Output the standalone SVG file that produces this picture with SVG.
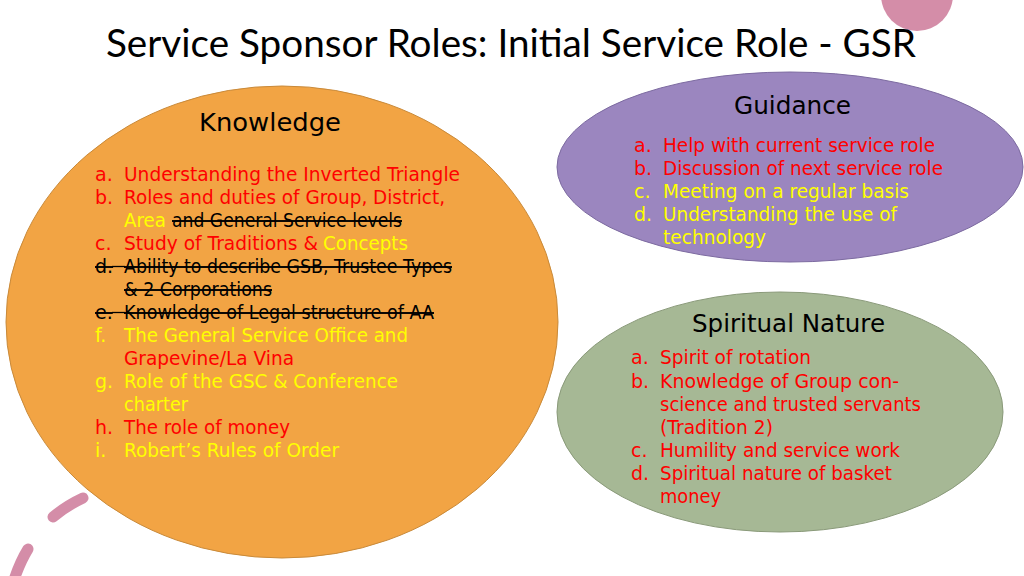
<svg xmlns="http://www.w3.org/2000/svg" width="1024" height="576" viewBox="0 0 1024 576">
<style>
.t{font-family:"DejaVu Sans","Noto Sans",sans-serif;font-size:19px}
.h{font-family:"DejaVu Sans","Noto Sans",sans-serif;font-size:24px;fill:#000}
.title{font-family:"Lato","Open Sans",sans-serif;font-size:38px;fill:#000}
.r{fill:#FF0000}
.y{fill:#FFFF00}
.k{fill:#000}
.s{text-decoration:line-through}
.bridge{stroke:#000;stroke-width:1.3}
.deco{stroke:#D48DA8;stroke-width:11;stroke-linecap:round;fill:none}
</style>
<rect width="1024" height="576" fill="#fff"/>
<g id="decor">
<circle cx="917" cy="-5" r="36" fill="#D48DA8"/>
<path class="deco" d="M53,517 Q66,506 83,498"/>
<path class="deco" d="M28,549 Q20,562 14,580"/>
</g>
<g id="title">
<text class="title" x="106" y="57" textLength="810" lengthAdjust="spacingAndGlyphs">Service Sponsor Roles: Initial Service Role - GSR</text>
</g>
<g id="connectors"/>
<g id="knowledge">
<ellipse cx="282" cy="322" rx="276" ry="236" fill="#F2A444" stroke="#C98A3A" stroke-width="1"/>
<text class="h" x="199" y="131" textLength="142" lengthAdjust="spacingAndGlyphs">Knowledge</text>
<text class="t r" x="95" y="181">a.</text>
<text class="t r" x="124" y="181" textLength="336" lengthAdjust="spacingAndGlyphs">Understanding the Inverted Triangle</text>
<text class="t r" x="95" y="204">b.</text>
<text class="t r" x="124" y="204" textLength="321" lengthAdjust="spacingAndGlyphs">Roles and duties of Group, District,</text>
<text class="t y" x="124" y="227" textLength="42" lengthAdjust="spacingAndGlyphs">Area</text>
<text class="t k s" x="172" y="227" textLength="230" lengthAdjust="spacingAndGlyphs">and General Service levels</text>
<text class="t r" x="95" y="250">c.</text>
<text class="t r" x="124" y="250" textLength="194" lengthAdjust="spacingAndGlyphs">Study of Traditions &amp;</text>
<text class="t y" x="323" y="250" textLength="85" lengthAdjust="spacingAndGlyphs">Concepts</text>
<text class="t k s" x="95" y="273">d.</text>
<line class="bridge" x1="112" y1="266.5" x2="125" y2="266.5"/>
<text class="t k s" x="124" y="273" textLength="328" lengthAdjust="spacingAndGlyphs">Ability to describe GSB, Trustee Types</text>
<text class="t k s" x="124" y="296" textLength="148" lengthAdjust="spacingAndGlyphs">&amp; 2 Corporations</text>
<text class="t k s" x="95" y="319">e.</text>
<line class="bridge" x1="112" y1="312.5" x2="125" y2="312.5"/>
<text class="t k s" x="124" y="319" textLength="310" lengthAdjust="spacingAndGlyphs">Knowledge of Legal structure of AA</text>
<text class="t y" x="95" y="342">f.</text>
<text class="t y" x="124" y="342" textLength="284" lengthAdjust="spacingAndGlyphs">The General Service Office and</text>
<text class="t r" x="124" y="365" textLength="170" lengthAdjust="spacingAndGlyphs">Grapevine/La Vina</text>
<text class="t y" x="95" y="388">g.</text>
<text class="t y" x="124" y="388" textLength="274" lengthAdjust="spacingAndGlyphs">Role of the GSC &amp; Conference</text>
<text class="t y" x="124" y="411" textLength="64" lengthAdjust="spacingAndGlyphs">charter</text>
<text class="t r" x="95" y="434">h.</text>
<text class="t r" x="124" y="434" textLength="166" lengthAdjust="spacingAndGlyphs">The role of money</text>
<text class="t y" x="95" y="457">i.</text>
<text class="t y" x="124" y="457" textLength="215" lengthAdjust="spacingAndGlyphs">Robert’s Rules of Order</text>
</g>
<g id="guidance">
<ellipse cx="790" cy="167" rx="233" ry="95" fill="#9B86BF" stroke="#7C6AA0" stroke-width="1"/>
<text class="h" x="734" y="114" textLength="117" lengthAdjust="spacingAndGlyphs">Guidance</text>
<text class="t r" x="634" y="152">a.</text>
<text class="t r" x="663" y="152" textLength="272" lengthAdjust="spacingAndGlyphs">Help with current service role</text>
<text class="t r" x="634" y="175">b.</text>
<text class="t r" x="663" y="175" textLength="280" lengthAdjust="spacingAndGlyphs">Discussion of next service role</text>
<text class="t y" x="634" y="198">c.</text>
<text class="t y" x="663" y="198" textLength="246" lengthAdjust="spacingAndGlyphs">Meeting on a regular basis</text>
<text class="t y" x="634" y="221">d.</text>
<text class="t y" x="663" y="221" textLength="234" lengthAdjust="spacingAndGlyphs">Understanding the use of</text>
<text class="t y" x="663" y="244" textLength="103" lengthAdjust="spacingAndGlyphs">technology</text>
</g>
<g id="spiritual">
<ellipse cx="780" cy="412" rx="223" ry="120" fill="#A6B895" stroke="#8A9A7A" stroke-width="1"/>
<text class="h" x="692" y="332" textLength="193" lengthAdjust="spacingAndGlyphs">Spiritual Nature</text>
<text class="t r" x="631" y="364">a.</text>
<text class="t r" x="660" y="364" textLength="151" lengthAdjust="spacingAndGlyphs">Spirit of rotation</text>
<text class="t r" x="631" y="388">b.</text>
<text class="t r" x="660" y="388" textLength="239" lengthAdjust="spacingAndGlyphs">Knowledge of Group con-</text>
<text class="t r" x="660" y="411" textLength="261" lengthAdjust="spacingAndGlyphs">science and trusted servants</text>
<text class="t r" x="660" y="434" textLength="113" lengthAdjust="spacingAndGlyphs">(Tradition 2)</text>
<text class="t r" x="631" y="457">c.</text>
<text class="t r" x="660" y="457" textLength="240" lengthAdjust="spacingAndGlyphs">Humility and service work</text>
<text class="t r" x="631" y="480">d.</text>
<text class="t r" x="660" y="480" textLength="232" lengthAdjust="spacingAndGlyphs">Spiritual nature of basket</text>
<text class="t r" x="660" y="503" textLength="61" lengthAdjust="spacingAndGlyphs">money</text>
</g>
</svg>
